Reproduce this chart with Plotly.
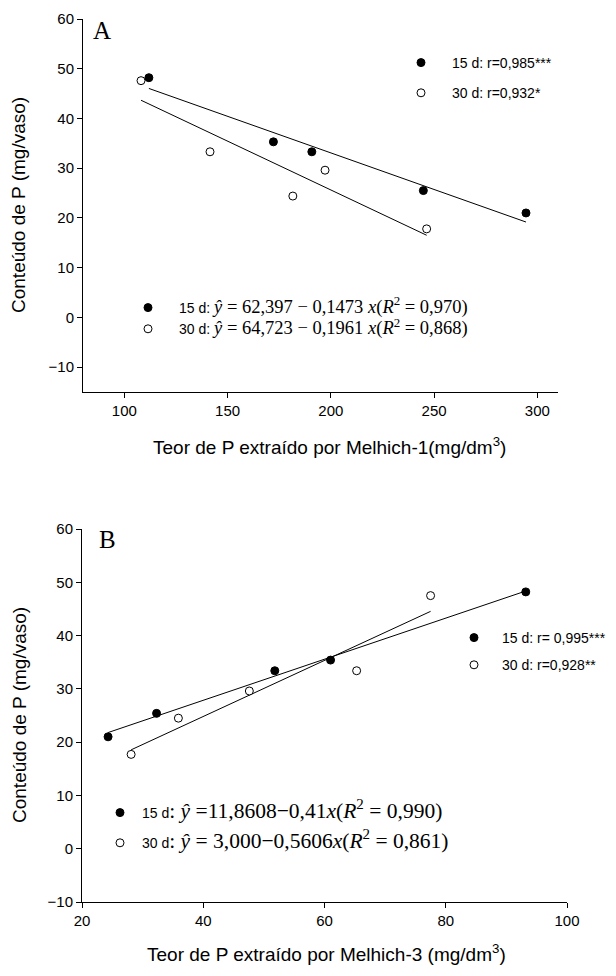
import numpy as np
import plotly.graph_objects as go

# ---------------- data ----------------
# Panel A: P extracted by Mehlich-1 (mg/dm3) vs P content (mg/vaso)
a_x15 = [111.9, 172.2, 190.8, 244.8, 294.5]
a_y15 = [48.2, 35.3, 33.3, 25.5, 21.0]
a_x30 = [108.1, 141.5, 181.6, 197.2, 246.4]
a_y30 = [47.6, 33.3, 24.4, 29.6, 17.8]
# Panel B: P extracted by Mehlich-3
b_x15 = [24.3, 32.3, 51.8, 61.0, 93.2]
b_y15 = [21.0, 25.4, 33.4, 35.4, 48.2]
b_x30 = [28.1, 35.9, 47.6, 65.3, 77.5]
b_y30 = [17.7, 24.5, 29.6, 33.4, 47.5]

a_r_labels = ["15 d: r=0,985***", "30 d: r=0,932*"]
b_r_labels = ["15 d: r= 0,995***", "30 d: r=0,928**"]
SA = "font-family:'Liberation Serif';font-size:18.5px"
SB = "font-family:'Liberation Serif';font-size:21.5px"
a_eq_labels = [
    "15 d: <span style=\"%s\"><i>ŷ</i> = 62,397 − 0,1473 <i>x</i>(<i>R</i><sup>2</sup> = 0,970)</span>" % SA,
    "30 d: <span style=\"%s\"><i>ŷ</i> = 64,723 − 0,1961 <i>x</i>(<i>R</i><sup>2</sup> = 0,868)</span>" % SA,
]
b_eq_labels = [
    "15 d<span style=\"%s\">: <i>ŷ</i> =11,8608−0,41<i>x</i>(<i>R</i><sup>2</sup> = 0,990)</span>" % SB,
    "30 d<span style=\"%s\">: <i>ŷ</i> = 3,000−0,5606<i>x</i>(<i>R</i><sup>2</sup> = 0,861)</span>" % SB,
]

W, H = 616, 976
fig = go.Figure()

filled = dict(symbol="circle", size=8, color="black", line=dict(color="black", width=1))
hollow = dict(symbol="circle", size=8, color="white", line=dict(color="black", width=1))


def fit_line(xs, ys):
    k, b = np.polyfit(xs, ys, 1)
    xx = np.array([min(xs), max(xs)])
    return xx, k * xx + b


def panel(xa, ya, x15, y15, x30, y30, rlab, eqlab, legtop, legbot, tag):
    for xs, ys in ((x15, y15), (x30, y30)):
        lx, ly = fit_line(xs, ys)
        fig.add_trace(go.Scatter(x=lx, y=ly, mode="lines", xaxis=xa, yaxis=ya,
                                 line=dict(color="black", width=1), showlegend=False,
                                 hoverinfo="skip"))
    fig.add_trace(go.Scatter(x=x15, y=y15, mode="markers", xaxis=xa, yaxis=ya, marker=filled,
                             name=rlab[0], legend=legtop, legendgroup=tag + "r1"))
    fig.add_trace(go.Scatter(x=x30, y=y30, mode="markers", xaxis=xa, yaxis=ya, marker=hollow,
                             name=rlab[1], legend=legtop, legendgroup=tag + "r2"))
    fig.add_trace(go.Scatter(x=[None], y=[None], mode="markers", xaxis=xa, yaxis=ya, marker=filled,
                             name=eqlab[0], legend=legbot, legendgroup=tag + "e1"))
    fig.add_trace(go.Scatter(x=[None], y=[None], mode="markers", xaxis=xa, yaxis=ya, marker=hollow,
                             name=eqlab[1], legend=legbot, legendgroup=tag + "e2"))


panel("x", "y", a_x15, a_y15, a_x30, a_y30, a_r_labels, a_eq_labels, "legend", "legend2", "a")
panel("x2", "y2", b_x15, b_y15, b_x30, b_y30, b_r_labels, b_eq_labels, "legend3", "legend4", "b")

axis_common = dict(showline=True, linecolor="black", linewidth=1, ticks="outside", ticklen=5,
                   tickcolor="black", showgrid=False, zeroline=False, automargin=False,
                   tickfont=dict(family="Liberation Sans", size=15, color="black"))


def px_x(p):
    return p / W


def px_y(p):
    return 1 - p / H


def leg(x, y, size, gap, iw=30):
    return dict(x=px_x(x), y=px_y(y), xanchor="left", yanchor="top", bgcolor="rgba(0,0,0,0)",
                borderwidth=0, font=dict(family="Liberation Sans", size=size, color="black"),
                traceorder="grouped", tracegroupgap=gap, itemclick=False, itemdoubleclick=False,
                itemwidth=iw)


fig.update_layout(
    template="none",
    width=W, height=H, margin=dict(l=0, r=0, t=0, b=0, autoexpand=False),
    plot_bgcolor="white", paper_bgcolor="white", showlegend=True,
    font=dict(family="Liberation Sans", color="black"),
    xaxis=dict(axis_common, domain=[px_x(83), px_x(558)], range=[80, 310],
               tickvals=[100, 150, 200, 250, 300], anchor="y"),
    yaxis=dict(axis_common, domain=[px_y(392), px_y(19)], range=[-15, 60],
               tickvals=[-10, 0, 10, 20, 30, 40, 50, 60], anchor="x"),
    xaxis2=dict(axis_common, domain=[px_x(82), px_x(567)], range=[20, 100],
                tickvals=[20, 40, 60, 80, 100], anchor="y2"),
    yaxis2=dict(axis_common, domain=[px_y(902), px_y(529)], range=[-10, 60],
                tickvals=[-10, 0, 10, 20, 30, 40, 50, 60], anchor="x2"),
    legend=leg(390, 47, 14, 9, 52),
    legend2=leg(117, 292, 14, 0, 52),
    legend3=leg(446, 622, 14, 6, 46),
    legend4=leg(98, 797, 14, 9, 34),
)

ann_font = dict(family="Liberation Sans", size=19, color="black")
centered = dict(xref="paper", yref="paper", xanchor="center", yanchor="middle", showarrow=False,
                font=ann_font)
fig.add_annotation(text="Teor de P extraído por Melhich-1(mg/dm<sup>3</sup>)",
                   x=px_x(329), y=px_y(446), **centered)
fig.add_annotation(text="Teor de P extraído por Melhich-3 (mg/dm<sup>3</sup>)",
                   x=px_x(326), y=px_y(953), **centered)
fig.add_annotation(text="Conteúdo de P (mg/vaso)", textangle=-90,
                   x=px_x(19), y=px_y(205), **centered)
fig.add_annotation(text="Conteúdo de P (mg/vaso)", textangle=-90,
                   x=px_x(19), y=px_y(715), **centered)
fig.add_annotation(text="A", xref="paper", yref="paper", x=px_x(91), y=px_y(15),
                   xanchor="left", yanchor="top", showarrow=False,
                   font=dict(family="Liberation Serif", size=25, color="black"))
fig.add_annotation(text="B", xref="paper", yref="paper", x=px_x(97), y=px_y(524),
                   xanchor="left", yanchor="top", showarrow=False,
                   font=dict(family="Liberation Serif", size=25, color="black"))

fig.write_html("out.html", config={"displayModeBar": False},
               post_script="document.body.style.margin='0';document.body.style.overflow='hidden';")
